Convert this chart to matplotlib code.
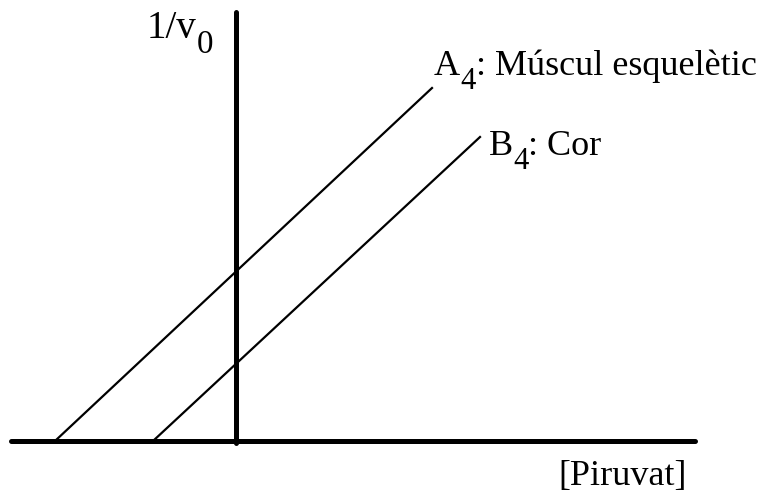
import matplotlib.pyplot as plt

# Lineweaver-Burk style sketch: 1/v0 vs 1/[Piruvat], origin at (0, 0)
line_labels = [("A", "4", ": Múscul esquelètic"), ("B", "4", ": Cor")]
line_x = [[-1.806, 1.964], [-0.826, 2.444]]
line_y = [[0.0, 3.53], [0.0, 3.04]]

x_axis_range = [-2.246, 4.594]
y_axis_range = [-0.02, 4.29]

label_pos = [(1.984, 3.66), (2.534, 2.86)]

plt.rcParams["font.family"] = ["Liberation Serif", "DejaVu Serif"]

fig = plt.figure(figsize=(7.61, 4.97), dpi=100)
ax = fig.add_axes([0, 0, 1, 1])
ax.set_xlim(-2.356, 5.254)
ax.set_ylim(-0.56, 4.41)
ax.axis("off")
renderer = fig.canvas.get_renderer()

FS = 26


def sub_text(x, y, main, sub, rest="", fs=FS):
    # draw text with a big, low subscript, piece by piece
    off = 0.0
    for s, size, dy in [(main, fs, 0), (sub, fs * 0.85, -fs * 0.39), (rest, fs, 0)]:
        if not s:
            continue
        t = ax.annotate(s, (x, y), xytext=(off, dy), textcoords="offset points",
                        fontsize=size, va="baseline", ha="left")
        off += t.get_window_extent(renderer).width * 72 / fig.dpi


# axes drawn as thick lines
ax.plot(x_axis_range, [0, 0], color="black", lw=3.6, solid_capstyle="round")
ax.plot([0, 0], y_axis_range, color="black", lw=3.6, solid_capstyle="round")

for xs, ys, parts, pos in zip(line_x, line_y, line_labels, label_pos):
    ax.plot(xs, ys, color="black", lw=1.6)
    sub_text(pos[0], pos[1], *parts)

sub_text(-0.89, 4.03, "1/v", "0", fs=28)
ax.text(3.224, -0.44, "[Piruvat]", fontsize=FS, va="baseline", ha="left")

plt.savefig("out.png", dpi=100)
plt.close()
